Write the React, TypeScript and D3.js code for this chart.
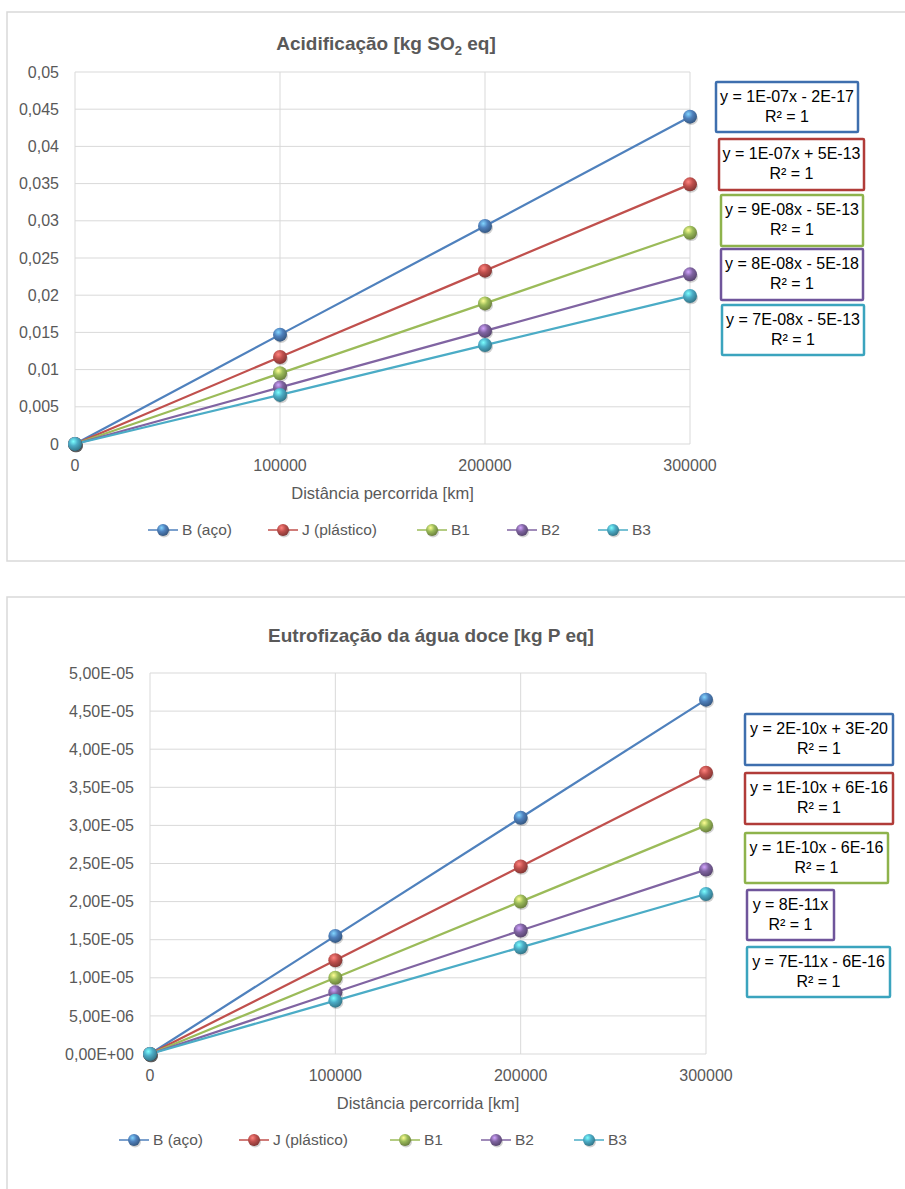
import React from "react";
import * as d3 from "d3";

// distance travelled [km]
const distances = [0, 100000, 200000, 300000];

const seriesNames = ["B (aço)", "J (plástico)", "B1", "B2", "B3"];
const seriesColors = ["#4f81bd", "#c0504d", "#9bbb59", "#8064a2", "#4bacc6"];
const boxColors = ["#3e6fae", "#b13c39", "#8eb34c", "#6f559b", "#3ba4be"];

// Acidificação [kg SO2 eq]
const acidB = [0, 0.0147, 0.0293, 0.044];
const acidJ = [0, 0.0117, 0.0233, 0.0349];
const acidB1 = [0, 0.0095, 0.0189, 0.0284];
const acidB2 = [0, 0.0076, 0.0152, 0.0228];
const acidB3 = [0, 0.0066, 0.0133, 0.0199];
const acidTicks = [0, 0.005, 0.01, 0.015, 0.02, 0.025, 0.03, 0.035, 0.04, 0.045, 0.05];
const acidEquations = [
  "y = 1E-07x - 2E-17",
  "y = 1E-07x + 5E-13",
  "y = 9E-08x - 5E-13",
  "y = 8E-08x - 5E-18",
  "y = 7E-08x - 5E-13",
];

// Eutrofização da água doce [kg P eq]
const eutB = [0, 1.55e-5, 3.1e-5, 4.65e-5];
const eutJ = [0, 1.23e-5, 2.46e-5, 3.69e-5];
const eutB1 = [0, 1.0e-5, 2.0e-5, 3.0e-5];
const eutB2 = [0, 0.81e-5, 1.62e-5, 2.42e-5];
const eutB3 = [0, 0.7e-5, 1.4e-5, 2.1e-5];
const eutTicks = [0, 5e-6, 1e-5, 1.5e-5, 2e-5, 2.5e-5, 3e-5, 3.5e-5, 4e-5, 4.5e-5, 5e-5];
const eutEquations = [
  "y = 2E-10x + 3E-20",
  "y = 1E-10x + 6E-16",
  "y = 1E-10x - 6E-16",
  "y = 8E-11x",
  "y = 7E-11x - 6E-16",
];

const xTicks = [0, 100000, 200000, 300000];
const xTitle = "Distância percorrida [km]";

const FONT = "'Liberation Sans', Arial, sans-serif";
const TXT = "#595959";

const fmtDecimal = (v: number) => d3.format(".3~f")(v).replace(".", ",");
const fmtSci = (v: number) => {
  const [m, e] = v.toExponential(2).split("e");
  const n = Math.abs(+e);
  return m.replace(".", ",") + "E" + (e[0] === "-" ? "-" : "+") + (n < 10 ? "0" + n : "" + n);
};

type Box = { x: number; y: number; w: number; h: number };

type ChartProps = {
  id: string;
  frame: Box;
  title: React.ReactNode;
  titleX: number;
  titleY: number;
  plot: { left: number; right: number; top: number; bottom: number };
  yTicks: number[];
  yFormat: (v: number) => string;
  series: number[][];
  legendY: number;
  legendX: number[];
  boxes: Box[];
  equations: string[];
};

function Sphere({ cx, cy, r, i, id }: { cx: number; cy: number; r: number; i: number; id: string }) {
  return (
    <g>
      <ellipse cx={cx + 1} cy={cy + 2} rx={r} ry={r * 0.9} fill="#000" opacity={0.18} />
      <circle cx={cx} cy={cy} r={r} fill={`url(#${id}-sph${i})`} />
    </g>
  );
}

function Chart(p: ChartProps) {
  const x = d3.scaleLinear().domain([0, 300000]).range([p.plot.left, p.plot.right]);
  const y = d3
    .scaleLinear()
    .domain([0, p.yTicks[p.yTicks.length - 1]])
    .range([p.plot.bottom, p.plot.top]);
  const line = d3
    .line<number>()
    .x((_, i) => x(distances[i]))
    .y((d) => y(d));

  return (
    <g>
      <defs>
        {seriesColors.map((c, i) => (
          <radialGradient key={i} id={`${p.id}-sph${i}`} cx="38%" cy="32%" r="70%">
            <stop offset="0%" stopColor={d3.color(c)!.brighter(1.4).formatHex()} />
            <stop offset="45%" stopColor={c} />
            <stop offset="100%" stopColor={d3.color(c)!.darker(1.1).formatHex()} />
          </radialGradient>
        ))}
      </defs>
      <rect
        x={p.frame.x}
        y={p.frame.y}
        width={p.frame.w}
        height={p.frame.h}
        fill="#fff"
        stroke="#d9d9d9"
        strokeWidth={1.5}
      />
      <text
        x={p.titleX}
        y={p.titleY}
        textAnchor="middle"
        fontSize={19}
        fontWeight="bold"
        fill={TXT}
        fontFamily={FONT}
      >
        {p.title}
      </text>

      {/* grid */}
      {p.yTicks.map((t) => (
        <line
          key={"h" + t}
          x1={p.plot.left}
          x2={p.plot.right}
          y1={y(t)}
          y2={y(t)}
          stroke="#d9d9d9"
          strokeWidth={1}
        />
      ))}
      {xTicks.map((t) => (
        <line
          key={"v" + t}
          x1={x(t)}
          x2={x(t)}
          y1={p.plot.top}
          y2={p.plot.bottom}
          stroke="#d9d9d9"
          strokeWidth={1}
        />
      ))}

      {/* tick labels */}
      {p.yTicks.map((t) => (
        <text
          key={"yl" + t}
          x={p.plot.left - 16}
          y={y(t)}
          dy="0.35em"
          textAnchor="end"
          fontSize={16}
          fill={TXT}
          fontFamily={FONT}
        >
          {p.yFormat(t)}
        </text>
      ))}
      {xTicks.map((t) => (
        <text
          key={"xl" + t}
          x={x(t)}
          y={p.plot.bottom + 27}
          textAnchor="middle"
          fontSize={16}
          fill={TXT}
          fontFamily={FONT}
        >
          {t}
        </text>
      ))}
      <text
        x={(p.plot.left + p.plot.right) / 2}
        y={p.plot.bottom + 55}
        textAnchor="middle"
        fontSize={16.5}
        fill={TXT}
        fontFamily={FONT}
      >
        {xTitle}
      </text>

      {/* series */}
      {p.series.map((s, i) => (
        <path key={"l" + i} d={line(s)!} fill="none" stroke={seriesColors[i]} strokeWidth={2.25} />
      ))}
      {p.series.map((s, i) =>
        s.map((v, j) => (
          <Sphere key={"m" + i + "-" + j} cx={x(distances[j])} cy={y(v)} r={7} i={i} id={p.id} />
        ))
      )}

      {/* legend */}
      {seriesNames.map((n, i) => (
        <g key={"lg" + i}>
          <line
            x1={p.legendX[i] - 15}
            x2={p.legendX[i] + 15}
            y1={p.legendY}
            y2={p.legendY}
            stroke={seriesColors[i]}
            strokeWidth={1.5}
          />
          <Sphere cx={p.legendX[i]} cy={p.legendY} r={6} i={i} id={p.id} />
          <text
            x={p.legendX[i] + 19}
            y={p.legendY}
            dy="0.35em"
            fontSize={15.5}
            fill={TXT}
            fontFamily={FONT}
          >
            {n}
          </text>
        </g>
      ))}

      {/* trendline equation boxes */}
      {p.boxes.map((b, i) => (
        <g key={"b" + i}>
          <rect
            x={b.x}
            y={b.y}
            width={b.w}
            height={b.h}
            fill="#fff"
            stroke={boxColors[i]}
            strokeWidth={2.5}
            rx={1}
          />
          <text
            x={b.x + b.w / 2}
            y={b.y + 20}
            textAnchor="middle"
            fontSize={16}
            fill="#000"
            fontFamily={FONT}
          >
            {p.equations[i]}
          </text>
          <text
            x={b.x + b.w / 2}
            y={b.y + 40}
            textAnchor="middle"
            fontSize={16}
            fill="#000"
            fontFamily={FONT}
          >
            R² = 1
          </text>
        </g>
      ))}
    </g>
  );
}

export default function App() {
  return (
    <svg
      width={905}
      height={1189}
      style={{ position: "absolute", left: 0, top: 0, background: "#fff" }}
    >
      <Chart
        id="acid"
        frame={{ x: 7, y: 12, w: 910, h: 549 }}
        title={
          <>
            Acidificação [kg SO
            <tspan fontSize={13} dy={5}>
              2
            </tspan>
            <tspan dy={-5}> eq]</tspan>
          </>
        }
        titleX={386}
        titleY={50}
        plot={{ left: 75, right: 690, top: 72, bottom: 444 }}
        yTicks={acidTicks}
        yFormat={fmtDecimal}
        series={[acidB, acidJ, acidB1, acidB2, acidB3]}
        legendY={530}
        legendX={[163, 283, 432, 522, 613]}
        boxes={[
          { x: 716, y: 82, w: 142, h: 50 },
          { x: 719, y: 139, w: 145, h: 51 },
          { x: 721, y: 195, w: 142, h: 51 },
          { x: 721, y: 249, w: 142, h: 51 },
          { x: 722, y: 305, w: 142, h: 50 },
        ]}
        equations={acidEquations}
      />
      <Chart
        id="eut"
        frame={{ x: 7, y: 597, w: 910, h: 620 }}
        title="Eutrofização da água doce [kg P eq]"
        titleX={431}
        titleY={642}
        plot={{ left: 150, right: 706, top: 673, bottom: 1054 }}
        yTicks={eutTicks}
        yFormat={fmtSci}
        series={[eutB, eutJ, eutB1, eutB2, eutB3]}
        legendY={1140}
        legendX={[134, 254, 405, 496, 589]}
        boxes={[
          { x: 745, y: 714, w: 148, h: 51 },
          { x: 745, y: 773, w: 148, h: 51 },
          { x: 745, y: 833, w: 143, h: 50 },
          { x: 747, y: 890, w: 87, h: 50 },
          { x: 747, y: 947, w: 143, h: 50 },
        ]}
        equations={eutEquations}
      />
    </svg>
  );
}
